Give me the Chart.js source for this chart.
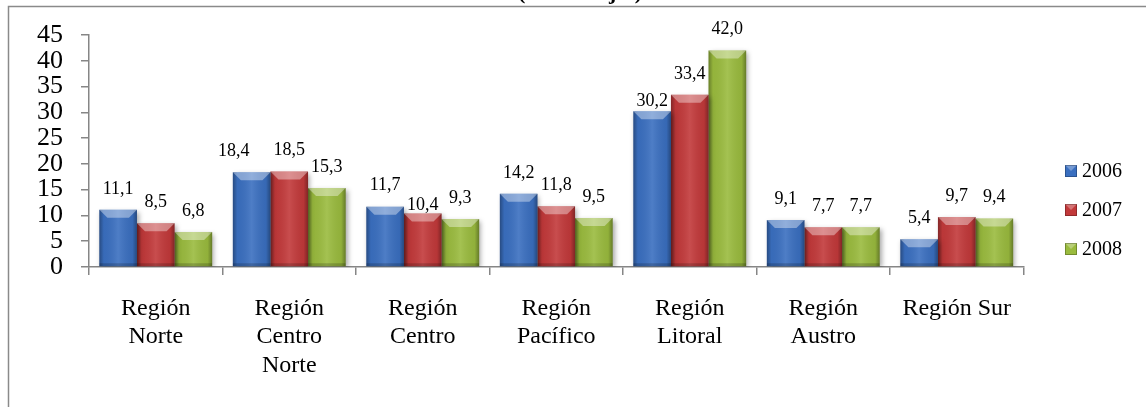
<!DOCTYPE html>
<html>
<head>
<meta charset="utf-8">
<script src="https://cdn.jsdelivr.net/npm/chart.js@4/dist/chart.umd.min.js"></script>
<style>
  html, body { margin: 0; padding: 0; background: #ffffff; }
  #wrap { position: relative; width: 1146px; height: 407px; }
</style>
</head>
<body>
<div id="wrap"><canvas id="chart" width="1146" height="407"></canvas></div>
<script>
// Regions (multi-line category labels)
const categories = [
  ['Región', 'Norte'],
  ['Región', 'Centro', 'Norte'],
  ['Región', 'Centro'],
  ['Región', 'Pacífico'],
  ['Región', 'Litoral'],
  ['Región', 'Austro'],
  ['Región Sur']
];
const seriesNames = ['2006', '2007', '2008'];
const values2006 = [11.1, 18.4, 11.7, 14.2, 30.2, 9.1, 5.4];
const values2007 = [8.5, 18.5, 10.4, 11.8, 33.4, 7.7, 9.7];
const values2008 = [6.8, 15.3, 9.3, 9.5, 42.0, 7.7, 9.4];
const yTicks = [0, 5, 10, 15, 20, 25, 30, 35, 40, 45];
const titleText = '(Porcentajes)';

const SERIF = '"Liberation Serif", "Times New Roman", serif';
const barColors = ['#3a6fc0', '#c2393a', '#9abb3e'];

// nudges for a few value labels that sit off the usual spot
const labelNudge = { '0-1': [-18, 0], '1-2': [0, 13], '0-4': [0, 11] };

const fmt = v => v.toFixed(1).replace('.', ',');

const bevelPlugin = {
  id: 'bevel',
  beforeDatasetsDraw(chart) {
    const ctx = chart.ctx;
    ctx.save();
    ctx.shadowColor = 'rgba(0,0,0,0.35)';
    ctx.shadowBlur = 5;
    ctx.shadowOffsetX = 2;
    ctx.shadowOffsetY = 2;
  },
  afterDatasetsDraw(chart) {
    const ctx = chart.ctx;
    ctx.restore();
    chart.data.datasets.forEach((ds, di) => {
      const meta = chart.getDatasetMeta(di);
      meta.data.forEach((bar, i) => {
        const p = bar.getProps(['x', 'y', 'base', 'width'], true);
        const l = p.x - p.width / 2, r = p.x + p.width / 2;
        const t = p.y, b = p.base;
        const h = b - t;
        // side shading
        const g = ctx.createLinearGradient(l, 0, r, 0);
        g.addColorStop(0, 'rgba(0,0,0,0.32)');
        g.addColorStop(0.12, 'rgba(0,0,0,0.04)');
        g.addColorStop(0.5, 'rgba(255,255,255,0.10)');
        g.addColorStop(0.88, 'rgba(0,0,0,0.06)');
        g.addColorStop(1, 'rgba(0,0,0,0.34)');
        ctx.fillStyle = g;
        ctx.fillRect(l, t, r - l, h);
        // top chamfer
        const bv = Math.min(8, h / 2);
        ctx.beginPath();
        ctx.moveTo(l, t); ctx.lineTo(r, t);
        ctx.lineTo(r - bv, t + bv); ctx.lineTo(l + bv, t + bv);
        ctx.closePath();
        ctx.fillStyle = 'rgba(255,255,255,0.38)';
        ctx.fill();
        // bottom edge
        ctx.fillStyle = 'rgba(0,0,0,0.18)';
        ctx.fillRect(l, b - 3, r - l, 3);

        // value label
        const nudge = labelNudge[di + '-' + i] || [0, 0];
        ctx.save();
        ctx.font = '18px ' + SERIF;
        ctx.fillStyle = '#000000';
        ctx.textAlign = 'center';
        ctx.textBaseline = 'middle';
        ctx.fillText(fmt(ds.data[i]), p.x + nudge[0], t - 21 + nudge[1]);
        ctx.restore();
      });
    });
  },
  afterDraw(chart) {
    const ctx = chart.ctx;
    ctx.save();
    // outer frame
    ctx.strokeStyle = '#8a8a8a';
    ctx.lineWidth = 1.5;
    ctx.beginPath();
    ctx.moveTo(8.5, 407); ctx.lineTo(8.5, 6.5); ctx.lineTo(1146, 6.5);
    ctx.stroke();
    // title, mostly above the visible area
    ctx.font = 'bold 22px ' + SERIF;
    ctx.fillStyle = '#000000';
    ctx.textAlign = 'center';
    ctx.textBaseline = 'alphabetic';
    ctx.fillText(titleText, 580, -1.5);
    // legend
    const rows = [171, 210, 249];
    chart.data.datasets.forEach((ds, di) => {
      const y = rows[di];
      const x = 1065, s = 12;
      ctx.fillStyle = ds.backgroundColor;
      ctx.fillRect(x, y - s / 2, s, s);
      ctx.beginPath();
      ctx.moveTo(x, y - s / 2); ctx.lineTo(x + s, y - s / 2);
      ctx.lineTo(x + s / 2, y); ctx.closePath();
      ctx.fillStyle = 'rgba(255,255,255,0.3)';
      ctx.fill();
      ctx.strokeStyle = 'rgba(0,0,0,0.25)';
      ctx.lineWidth = 1;
      ctx.strokeRect(x + 0.5, y - s / 2 + 0.5, s - 1, s - 1);
      ctx.font = '20px ' + SERIF;
      ctx.fillStyle = '#000000';
      ctx.textAlign = 'left';
      ctx.textBaseline = 'middle';
      ctx.fillText(ds.label, 1082, y + 1);
    });
    ctx.restore();
  }
};

new Chart(document.getElementById('chart'), {
  type: 'bar',
  data: {
    labels: categories,
    datasets: [
      { label: seriesNames[0], data: values2006, backgroundColor: barColors[0] },
      { label: seriesNames[1], data: values2007, backgroundColor: barColors[1] },
      { label: seriesNames[2], data: values2008, backgroundColor: barColors[2] }
    ]
  },
  options: {
    responsive: false,
    animation: false,
    events: [],
    layout: { padding: { top: 35, right: 122.5, left: 0, bottom: 0 } },
    datasets: { bar: { categoryPercentage: 0.845, barPercentage: 1.0, borderWidth: 0 } },
    plugins: {
      legend: { display: false },
      title: { display: false },
      tooltip: { enabled: false }
    },
    scales: {
      x: {
        grid: { offset: true, drawOnChartArea: false, drawTicks: true, tickLength: 8, color: '#868686', lineWidth: 1.5 },
        border: { color: '#868686', width: 1.5 },
        ticks: {
          font: { family: SERIF, size: 24, lineHeight: 1.2 },
          color: '#000000',
          padding: 19,
          maxRotation: 0,
          autoSkip: false
        },
        afterFit(scale) { scale.height = 140; }
      },
      y: {
        min: 0,
        max: 45,
        grid: { drawOnChartArea: false, drawTicks: true, tickLength: 8, color: '#868686', lineWidth: 1.5 },
        border: { color: '#868686', width: 1.5 },
        afterBuildTicks(scale) { scale.ticks = yTicks.map(v => ({ value: v })); },
        ticks: {
          font: { family: SERIF, size: 26, lineHeight: 1 },
          color: '#000000',
          padding: 18,
          autoSkip: false
        },
        afterFit(scale) { scale.width = 89; }
      }
    }
  },
  plugins: [bevelPlugin]
});
</script>
</body>
</html>
